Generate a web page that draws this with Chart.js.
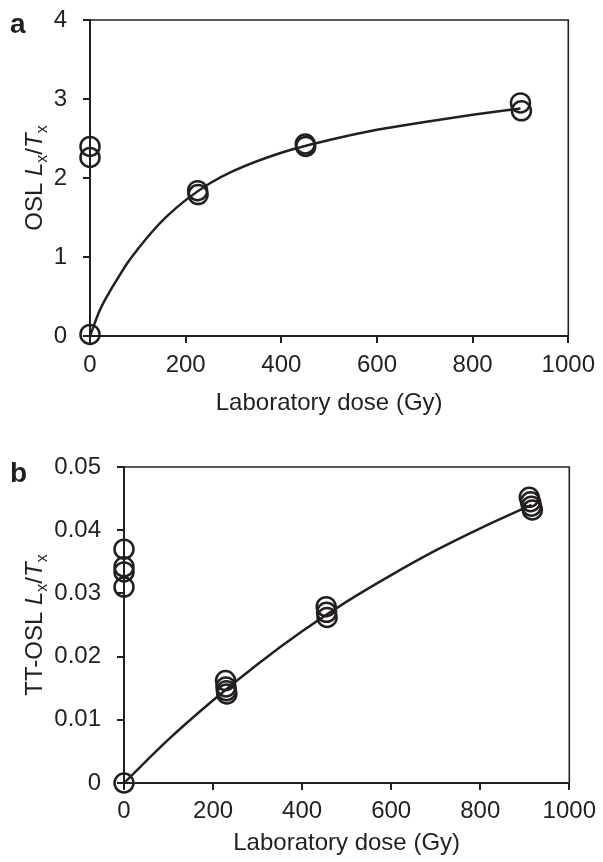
<!DOCTYPE html>
<html>
<head>
<meta charset="utf-8">
<script src="https://cdn.jsdelivr.net/npm/chart.js@4.4.1/dist/chart.umd.min.js"></script>
<style>
    html, body { margin: 0; padding: 0; background: #fff; }
    #page { position: relative; width: 603px; height: 862px; background: #fff; }
    .panel { position: absolute; left: 0; }
</style>
</head>
<body>
<div id="page">
    <div class="panel" style="top: 0;"><canvas id="oslChart" width="603" height="430"></canvas></div>
    <div class="panel" style="top: 430px;"><canvas id="ttoslChart" width="603" height="432"></canvas></div>
</div>
<script>
const doseTicks = [0, 200, 400, 600, 800, 1000];
const oslTicks = [0, 1, 2, 3, 4];
const ttoslTicks = [0, 0.01, 0.02, 0.03, 0.04, 0.05];

// panel a: measured aliquots and fitted growth curve
const oslDose = [0, 0, 0, 225, 226, 450, 451, 900, 902];
const oslRatio = [0.02, 2.40, 2.26, 1.84, 1.79, 2.43, 2.40, 2.95, 2.85];
const oslFitDose = [0, 20, 40, 60, 80, 100, 130, 160, 200, 250, 300, 400, 500, 600, 700, 800, 900];
const oslFitRatio = [0, 0.32, 0.55, 0.75, 0.94, 1.10, 1.32, 1.51, 1.72, 1.93, 2.09, 2.32, 2.48, 2.61, 2.71, 2.80, 2.88];

// panel b
const ttoslDose = [0, 0, 0, 0, 0, 228, 229, 230, 231, 454, 455, 456, 910, 913, 915, 917];
const ttoslRatio = [0, 0.0370, 0.0342, 0.0334, 0.0310, 0.0162, 0.0152, 0.0146, 0.0141, 0.0279, 0.0270, 0.0262, 0.0452, 0.0445, 0.0438, 0.0432];
const ttoslFitDose = [0, 100, 200, 300, 400, 500, 600, 700, 800, 915];
const ttoslFitRatio = [0, 0.0069, 0.0131, 0.0188, 0.0240, 0.0287, 0.0329, 0.0368, 0.0403, 0.0440];

const ink = '#231f20';
const fontFamily = "'Liberation Sans', Arial, Helvetica, sans-serif";
const fontSize = 24;

const frameAndTitles = {
    id: 'frameAndTitles',
    afterDraw(chart, args, opts) {
        const { ctx, chartArea } = chart;
        ctx.save();

        // top and right sides of the box
        ctx.strokeStyle = ink;
        ctx.lineWidth = 1.6;
        ctx.beginPath();
        ctx.moveTo(chartArea.left, chartArea.top);
        ctx.lineTo(chartArea.right, chartArea.top);
        ctx.lineTo(chartArea.right, chartArea.bottom);
        ctx.stroke();

        // panel letter
        ctx.fillStyle = ink;
        ctx.font = `bold 28px ${fontFamily}`;
        ctx.textBaseline = 'alphabetic';
        ctx.textAlign = 'left';
        ctx.fillText(opts.panel, 10, opts.panelY);

        // y-axis title with italic letters and subscripts
        const subFont = `${Math.round(fontSize * 0.68)}px ${fontFamily}`;
        const parts = [
            { text: opts.prefix, font: `${fontSize}px ${fontFamily}`, dy: 0 },
            { text: 'L', font: `italic ${fontSize}px ${fontFamily}`, dy: 0 },
            { text: 'x', font: subFont, dy: 5 },
            { text: '/', font: `${fontSize}px ${fontFamily}`, dy: 0 },
            { text: 'T', font: `italic ${fontSize}px ${fontFamily}`, dy: 0 },
            { text: 'x', font: subFont, dy: 5 },
        ];
        let total = 0;
        parts.forEach((p) => {
            ctx.font = p.font;
            p.width = ctx.measureText(p.text).width;
            total += p.width;
        });

        ctx.translate(opts.titleX, (chartArea.top + chartArea.bottom) / 2);
        ctx.rotate(-Math.PI / 2);
        let x = -total / 2;
        parts.forEach((p) => {
            ctx.font = p.font;
            ctx.fillText(p.text, x, p.dy);
            x += p.width;
        });

        ctx.restore();
    },
};

function chartOptions(yTicks, yWidth, xHeight, padding, labelPad, titlePad, plugin) {
    return {
        responsive: false,
        animation: false,
        layout: { padding },
        plugins: {
            legend: { display: false },
            tooltip: { enabled: false },
            frameAndTitles: plugin,
        },
        scales: {
            x: {
                type: 'linear',
                min: 0,
                max: 1000,
                afterFit: (scale) => { scale.height = xHeight; },
                afterBuildTicks: (scale) => { scale.ticks = doseTicks.map((value) => ({ value })); },
                border: { display: true, color: ink, width: 2 },
                grid: { display: true, drawOnChartArea: false, drawTicks: true, tickLength: 7, color: ink, lineWidth: 2 },
                ticks: {
                    color: ink,
                    font: { family: fontFamily, size: fontSize },
                    padding: labelPad,
                    maxRotation: 0,
                    callback: (value) => String(value),
                },
                title: {
                    display: true,
                    text: 'Laboratory dose (Gy)',
                    color: ink,
                    font: { family: fontFamily, size: fontSize },
                    padding: { top: 0, bottom: titlePad },
                },
            },
            y: {
                type: 'linear',
                min: yTicks[0],
                max: yTicks[yTicks.length - 1],
                afterFit: (scale) => {
                    scale.width = yWidth;
                    scale.paddingTop = 0;
                    scale.paddingBottom = 0;
                },
                afterBuildTicks: (scale) => { scale.ticks = yTicks.map((value) => ({ value })); },
                border: { display: true, color: ink, width: 2 },
                grid: { display: true, drawOnChartArea: false, drawTicks: true, tickLength: 7, color: ink, lineWidth: 2 },
                ticks: {
                    color: ink,
                    font: { family: fontFamily, size: fontSize },
                    padding: 16,
                    callback: (value) => String(value),
                },
            },
        },
    };
}

function buildDatasets(dose, ratio, fitDose, fitRatio) {
    return [
        {
            data: fitDose.map((x, i) => ({ x, y: fitRatio[i] })),
            showLine: true,
            borderColor: ink,
            borderWidth: 2.5,
            pointRadius: 0,
            cubicInterpolationMode: 'monotone',
            clip: false,
        },
        {
            data: dose.map((x, i) => ({ x, y: ratio[i] })),
            showLine: false,
            pointStyle: 'circle',
            pointRadius: 9.5,
            pointBorderWidth: 2.5,
            pointBorderColor: ink,
            pointBackgroundColor: 'rgba(0,0,0,0)',
            clip: false,
        },
    ];
}

new Chart(document.getElementById('oslChart'), {
    type: 'scatter',
    data: { datasets: buildDatasets(oslDose, oslRatio, oslFitDose, oslFitRatio) },
    options: chartOptions(oslTicks, 90, 94, { top: 20, right: 32, left: 0, bottom: 0 }, 8, 12,
        { panel: 'a', panelY: 33, prefix: 'OSL ', titleX: 42 }),
    plugins: [frameAndTitles],
});

new Chart(document.getElementById('ttoslChart'), {
    type: 'scatter',
    data: { datasets: buildDatasets(ttoslDose, ttoslRatio, ttoslFitDose, ttoslFitRatio) },
    options: chartOptions(ttoslTicks, 124, 79, { top: 37, right: 31, left: 0, bottom: 0 }, 7, 4,
        { panel: 'b', panelY: 52, prefix: 'TT-OSL ', titleX: 42 }),
    plugins: [frameAndTitles],
});
</script>
</body>
</html>
